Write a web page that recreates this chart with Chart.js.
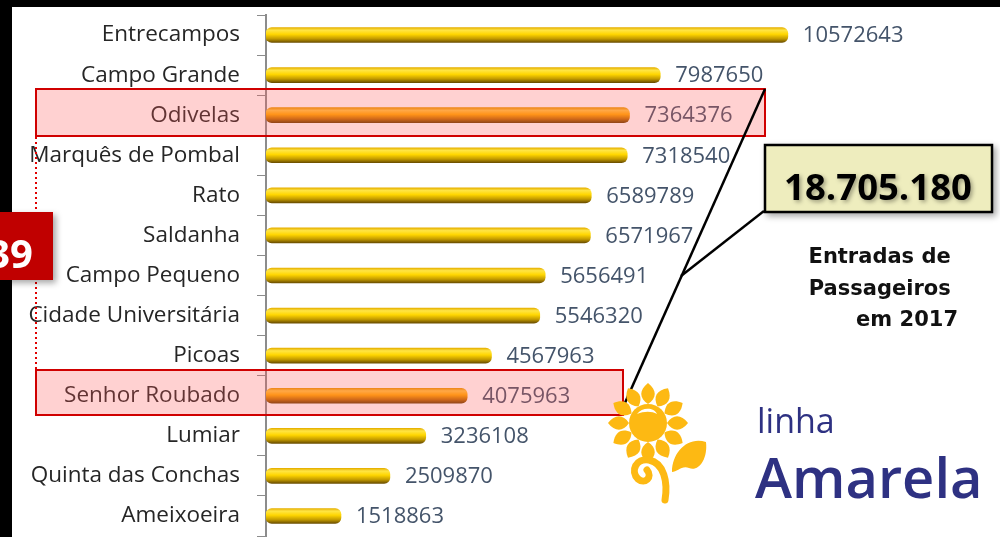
<!DOCTYPE html>
<html>
<head>
<meta charset="utf-8">
<script src="https://cdn.jsdelivr.net/npm/chart.js"></script>
<style>
  body { margin: 0; background: #fff; }
  #wrap { position: relative; width: 1000px; height: 537px; overflow: hidden; background: #fff; }
  #chart { position: absolute; left: 0; top: 0; }
  #overlay { position: absolute; left: 0; top: 0; pointer-events: none; }
</style>
</head>
<body>
<div id="wrap">
  <canvas id="chart" width="1000" height="537"></canvas>
  <svg id="overlay" width="1000" height="537" viewBox="0 0 1000 537">
    <defs>
      <filter id="shadow" x="-20%" y="-20%" width="140%" height="150%">
        <feDropShadow dx="3" dy="3" stdDeviation="3" flood-color="#000" flood-opacity="0.35"/>
      </filter>
      <filter id="txtShadow" x="-10%" y="-20%" width="120%" height="150%">
        <feDropShadow dx="2" dy="2" stdDeviation="2" flood-color="#000" flood-opacity="0.35"/>
      </filter>
      <path id="petal" d="M0,-19 C9,-25 9,-33 0,-40 C-9,-33 -9,-25 0,-19 Z"/>
    </defs>
    <!-- cadre noir -->
    <rect x="0" y="0" width="1000" height="7" fill="#000"/>
    <rect x="0" y="0" width="12" height="537" fill="#000"/>

    <!-- estações em destaque -->
    <rect x="36" y="89" width="729" height="47" fill="rgba(255,90,90,0.28)" stroke="#D00000" stroke-width="2"/>
    <rect x="36" y="370" width="587" height="45" fill="rgba(255,90,90,0.28)" stroke="#D00000" stroke-width="2"/>
    <line x1="36" y1="137" x2="36" y2="369" stroke="#E00000" stroke-width="2" stroke-dasharray="2,3"/>

    <!-- caixa 39 -->
    <rect x="0" y="212" width="53" height="68" fill="#C00000" filter="url(#shadow)"/>
    <text x="33" y="268" text-anchor="end" font-family="Open Sans" font-weight="700" font-size="40" fill="#fff">39</text>

    <!-- linhas de ligação -->
    <line x1="765" y1="89" x2="620" y2="414" stroke="#000" stroke-width="2.5"/>
    <line x1="764" y1="211" x2="681" y2="276" stroke="#000" stroke-width="2.5"/>

    <!-- total -->
    <rect x="765" y="145" width="227" height="67" fill="#EEEDBE" stroke="#000" stroke-width="2.5" filter="url(#shadow)"/>
    <text x="878" y="200" text-anchor="middle" font-family="Open Sans" font-weight="700" font-size="36.5" fill="#000" filter="url(#txtShadow)">18.705.180</text>

    <text text-anchor="end" font-family="DejaVu Sans" font-weight="700" font-size="21" fill="#111">
      <tspan x="958" y="263">Entradas de</tspan>
      <tspan x="958" y="295">Passageiros</tspan>
      <tspan x="958" y="326">em 2017</tspan>
    </text>

    <!-- girassol -->
    <g fill="#FDB913">
      <g transform="translate(648,423)">
        <use href="#petal" transform="rotate(0)"/>
        <use href="#petal" transform="rotate(30)"/>
        <use href="#petal" transform="rotate(60)"/>
        <use href="#petal" transform="rotate(90)"/>
        <use href="#petal" transform="rotate(120)"/>
        <use href="#petal" transform="rotate(150)"/>
        <use href="#petal" transform="rotate(180)"/>
        <use href="#petal" transform="rotate(210)"/>
        <use href="#petal" transform="rotate(240)"/>
        <use href="#petal" transform="rotate(270)"/>
        <use href="#petal" transform="rotate(300)"/>
        <use href="#petal" transform="rotate(330)"/>
        <circle cx="0" cy="0" r="19"/>
        <path d="M-11,-9 C-6,-16 6,-16 9,-9 C4,-12 -4,-12 -11,-9 Z" fill="#fff"/>
      </g>
      <path d="M665,500 C668,482 664,463 649,460 C636,458 630,471 638,479 C645,485 653,477 647,470" fill="none" stroke="#FDB913" stroke-width="7" stroke-linecap="round"/>
      <path d="M672,472 C672,452 688,436 706,442 C708,460 698,472 689,468 C682,465 677,472 672,472 Z"/>
    </g>
    <text x="757" y="433" font-family="Open Sans" font-weight="500" font-size="34" fill="#2E3182">linha</text>
    <text x="755" y="498" font-family="Open Sans" font-weight="600" font-size="56" fill="#2E3182">Amarela</text>
  </svg>
</div>
<script>
// Entradas de passageiros por estação, linha Amarela, 2017
const stations = ['Entrecampos', 'Campo Grande', 'Odivelas', 'Marquês de Pombal', 'Rato', 'Saldanha',
    'Campo Pequeno', 'Cidade Universitária', 'Picoas', 'Senhor Roubado', 'Lumiar', 'Quinta das Conchas', 'Ameixoeira'];
const entries = [10572643, 7987650, 7364376, 7318540, 6589789, 6571967,
    5656491, 5546320, 4567963, 4075963, 3236108, 2509870, 1518863];
const highlighted = ['Odivelas', 'Senhor Roubado'];

const BAR_H = 15;

function barGradient(context) {
    const chart = context.chart;
    const yScale = chart.scales.y;
    const isHi = highlighted.includes(stations[context.dataIndex]);
    const fallback = isHi ? '#FFA800' : '#FFD600';
    if (!yScale || context.dataIndex === undefined) return fallback;
    const cy = yScale.getPixelForValue(context.dataIndex);
    if (!isFinite(cy)) return fallback;
    const g = chart.ctx.createLinearGradient(0, cy - BAR_H / 2, 0, cy + BAR_H / 2);
    if (isHi) {
        g.addColorStop(0, '#E89A00');
        g.addColorStop(0.18, '#FFC640');
        g.addColorStop(0.45, '#FFAA00');
        g.addColorStop(0.75, '#C07000');
        g.addColorStop(1, '#6B4000');
    } else {
        g.addColorStop(0, '#E6B000');
        g.addColorStop(0.18, '#FFE545');
        g.addColorStop(0.45, '#FFD600');
        g.addColorStop(0.75, '#C29A00');
        g.addColorStop(1, '#6B4E00');
    }
    return g;
}

// étiquettes de valeur au bout des barres
const valueLabels = {
    id: 'valueLabels',
    afterDatasetsDraw(chart) {
        const ctx = chart.ctx;
        const meta = chart.getDatasetMeta(0);
        ctx.save();
        ctx.font = '22px "Open Sans"';
        ctx.fillStyle = '#44546A';
        ctx.textBaseline = 'middle';
        meta.data.forEach((bar, i) => {
            ctx.fillText(String(entries[i]), bar.x + 15, bar.y + 1);
        });
        ctx.restore();
    }
};

new Chart(document.getElementById('chart'), {
    type: 'bar',
    data: {
        labels: stations,
        datasets: [{
            data: entries,
            backgroundColor: barGradient,
            barThickness: BAR_H,
            borderRadius: 6,
            borderSkipped: false
        }]
    },
    options: {
        indexAxis: 'y',
        responsive: false,
        animation: false,
        devicePixelRatio: 1,
        layout: { padding: { top: 15, bottom: 1, left: 0, right: 43 } },
        plugins: { legend: { display: false }, tooltip: { enabled: false } },
        scales: {
            x: { display: false, min: 0, max: 14000000 },
            y: {
                afterFit: function(scale) {
                    scale.width = 266;
                    scale.paddingTop = 0;
                    scale.paddingBottom = 0;
                },
                grid: { drawOnChartArea: false, drawTicks: true, tickLength: 9, color: '#8c8c8c', offset: true },
                border: { display: true, color: '#8c8c8c', width: 2 },
                ticks: { color: '#262626', font: { family: 'Open Sans', size: 22.5 }, padding: 17 }
            }
        }
    },
    plugins: [valueLabels]
});
</script>
</body>
</html>
